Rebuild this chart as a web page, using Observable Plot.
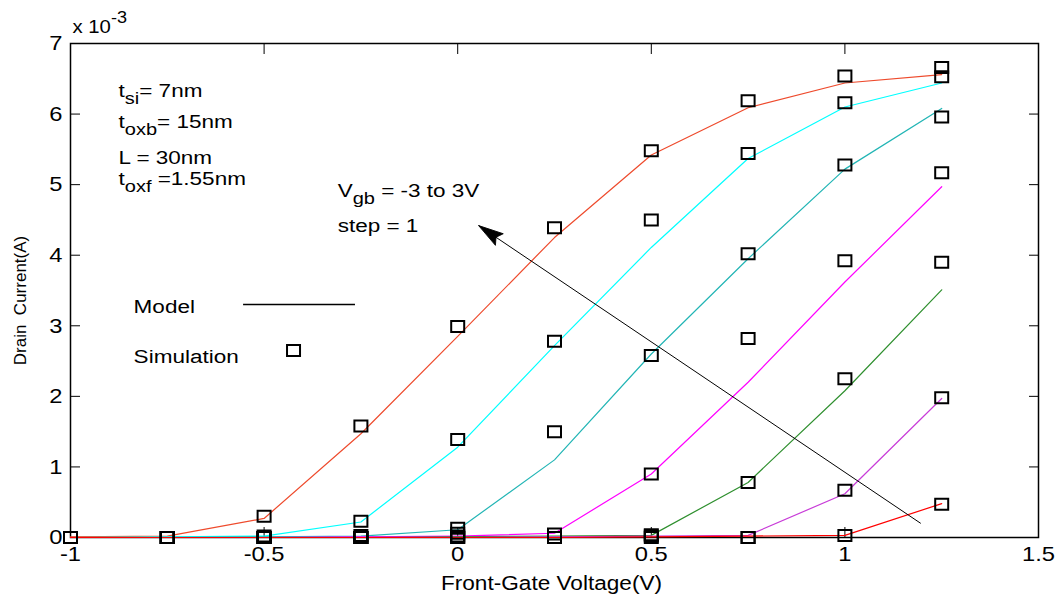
<!DOCTYPE html>
<html><head><meta charset="utf-8">
<script src="https://cdn.jsdelivr.net/npm/d3@7"></script>
<script src="https://cdn.jsdelivr.net/npm/@observablehq/plot@0.6"></script>
<style>
html,body{margin:0;padding:0;background:#fff;}
#chart{width:1063px;height:601px;}
</style></head><body><div id="chart"></div>
<script>
// Front-gate voltage (V)
const vfg = [-1, -0.75, -0.5, -0.25, 0, 0.25, 0.5, 0.75, 1, 1.25];
// back-gate voltages, one series each
const vgb = [3, 2, 1, 0, -1, -2, -3];
const seriesColors = ["#ee4a2c", "#00ffff", "#22b5b5", "#ff00ff", "#2e8f2e", "#c83cd8", "#ff0000"];

// Model drain current (x 1e-3 A)
const model_p3 = [0.01, 0.02, 0.27, 1.47, 2.85, 4.25, 5.42, 6.09, 6.44, 6.56];
const model_p2 = [0, 0.01, 0.02, 0.22, 1.28, 2.72, 4.11, 5.37, 6.10, 6.44];
const model_p1 = [0, 0, 0.01, 0.02, 0.11, 1.10, 2.60, 3.95, 5.22, 6.08];
const model_0  = [0, 0, 0, 0.01, 0.02, 0.06, 0.90, 2.20, 3.62, 4.97];
const model_m1 = [0, 0, 0, 0, 0.01, 0.02, 0.03, 0.78, 2.08, 3.51];
const model_m2 = [0, 0, 0, 0, 0, 0.01, 0.02, 0.03, 0.62, 1.97];
const model_m3 = [0, 0, 0, 0, 0, 0, 0.01, 0.02, 0.03, 0.48];

// Simulated drain current (x 1e-3 A)
const sim_p3 = [0, 0, 0.30, 1.58, 2.99, 4.39, 5.48, 6.19, 6.54, 6.66];
const sim_p2 = [0, 0, 0, 0.23, 1.39, 2.78, 4.50, 5.44, 6.16, 6.53];
const sim_p1 = [0, 0, 0.02, 0, 0.13, 1.50, 2.58, 4.02, 5.28, 5.96];
const sim_0  = [0, 0, 0, 0.03, 0.02, 0.05, 0.90, 2.82, 3.92, 5.17];
const sim_m1 = [0, 0, 0, 0, 0.06, 0, 0.04, 0.78, 2.25, 3.90];
const sim_m2 = [0, 0, 0, 0, 0, 0, 0.02, 0, 0.67, 1.98];
const sim_m3 = [0, 0, 0, 0, 0, 0, 0, 0, 0.03, 0.47];

const xTicks = [-1, -0.5, 0, 0.5, 1, 1.5];
const xTickLabels = ["-1", "-0.5", "0", "0.5", "1", "1.5"];
const yTicks = [0, 1, 2, 3, 4, 5, 6, 7];
const yTickLabels = ["0", "1", "2", "3", "4", "5", "6", "7"];

// annotations (data coordinates)
const annoText = ["t_{si}= 7nm", "t_{oxb}= 15nm", "L = 30nm", "t_{oxf} =1.55nm", "V_{gb} = -3 to 3V", "step = 1", "Model", "Simulation"];
const annoX = [-0.876, -0.876, -0.876, -0.876, -0.31, -0.31, -0.837, -0.837];
const annoY = [6.32, 5.88, 5.38, 5.07, 4.90, 4.41, 3.26, 2.55];
const arrowFrom = [1.196, 0.20];
const arrowTo = [0.054, 4.42];
const legendLineX = [-0.553, -0.264];
const legendLineY = 3.30;
const legendSquare = [-0.424, 2.65];

const modelSeries = [model_p3, model_p2, model_p1, model_0, model_m1, model_m2, model_m3];
const simSeries = [sim_p3, sim_p2, sim_p1, sim_0, sim_m1, sim_m2, sim_m3];
const modelRows = vgb.flatMap((g, i) => vfg.map((x, j) => ({x, y: modelSeries[i][j], vgb: String(g)})));
const simRows = vgb.flatMap((g, i) => vfg.map((x, j) => ({x, y: simSeries[i][j], vgb: String(g)})));
const annoRows = annoText.map((t, i) => ({t, x: annoX[i], y: annoY[i]}));

const W = 1063, H = 601, ML = 70, MR = 25, MT = 43, MB = 64;
const xDomain = [-1, 1.5], yDomain = [0, 7];
// direction of the arrow on screen, through Plot's own scale functions
const sx = Plot.scale({x: {domain: xDomain, range: [ML, W - MR]}});
const sy = Plot.scale({y: {domain: yDomain, range: [H - MB, MT]}});
const headAngle = Math.atan2(sy.apply(arrowTo[1]) - sy.apply(arrowFrom[1]), sx.apply(arrowTo[0]) - sx.apply(arrowFrom[0])) * 180 / Math.PI;

const rectSymbol = {draw(ctx) { ctx.moveTo(-6.5, -5.5); ctx.lineTo(6.5, -5.5); ctx.lineTo(6.5, 5.5); ctx.lineTo(-6.5, 5.5); ctx.closePath(); }};
const headSymbol = {draw(ctx) { ctx.moveTo(0, 0); ctx.lineTo(-25, -7); ctx.lineTo(-21, 0); ctx.lineTo(-25, 7); ctx.closePath(); }};

const blank = () => "";
const chart = Plot.plot({
  width: W, height: H,
  marginLeft: ML, marginRight: MR, marginTop: MT, marginBottom: MB,
  style: {fontFamily: "'Liberation Sans', Arial, sans-serif", fontSize: "21px", background: "white", color: "black"},
  x: {domain: xDomain},
  y: {domain: yDomain},
  color: {type: "ordinal", domain: vgb.map(String), range: seriesColors},
  marks: [
    Plot.axisX(xTicks, {anchor: "bottom", tickSize: -10, tickFormat: blank, label: null}),
    Plot.axisX(xTicks, {anchor: "top", tickSize: -10, tickFormat: blank, label: null}),
    Plot.axisY(yTicks, {anchor: "left", tickSize: -10, tickFormat: blank, label: null}),
    Plot.axisY(yTicks, {anchor: "right", tickSize: -10, tickFormat: blank, label: null}),
    Plot.axisX(xTicks, {anchor: "bottom", tickSize: 0, tickPadding: 9, tickFormat: (d) => xTickLabels[xTicks.indexOf(d)], label: null}),
    Plot.axisY(yTicks, {anchor: "left", tickSize: 0, tickPadding: 8, tickFormat: (d) => yTickLabels[yTicks.indexOf(d)], label: null}),
    Plot.frame({stroke: "black", strokeWidth: 1.5}),
    Plot.line(modelRows, {x: "x", y: "y", z: "vgb", stroke: "vgb", strokeWidth: 1.2}),
    Plot.dot(simRows, {x: "x", y: "y", symbol: rectSymbol, stroke: "black", strokeWidth: 2, fill: "none"}),
    Plot.link([0], {x1: () => arrowFrom[0], y1: () => arrowFrom[1], x2: () => arrowTo[0], y2: () => arrowTo[1], stroke: "black", strokeWidth: 1}),
    Plot.dot([arrowTo], {x: d => d[0], y: d => d[1], symbol: headSymbol, rotate: headAngle, fill: "black", stroke: "black", strokeWidth: 0.8}),
    Plot.ruleY([legendLineY], {x1: legendLineX[0], x2: legendLineX[1], stroke: "black", strokeWidth: 1.5}),
    Plot.dot([legendSquare], {x: d => d[0], y: d => d[1], symbol: rectSymbol, stroke: "black", strokeWidth: 2, fill: "none"}),
    Plot.text(annoRows, {x: "x", y: "y", text: "t", textAnchor: "start", lineAnchor: "middle", fontSize: 18}),
    Plot.text(["x 10^{-3}"], {frameAnchor: "top-left", textAnchor: "start", lineAnchor: "middle", dx: 2, dy: -16, fontSize: 18}),
    Plot.text(["Front-Gate Voltage(V)"], {frameAnchor: "bottom", textAnchor: "middle", lineAnchor: "middle", dy: 46, dx: -3, fontSize: 20}),
    Plot.text(["Drain  Current(A)"], {frameAnchor: "left", textAnchor: "middle", lineAnchor: "middle", rotate: -90, dx: -50, dy: 10, fontSize: 17})
  ]
});
document.getElementById("chart").appendChild(chart);

// subscripts / superscripts, and horizontal stretch of horizontal text
const NS = "http://www.w3.org/2000/svg";
const annoSet = new Set(annoText);
chart.querySelectorAll("text").forEach(t => {
  const s = t.textContent;
  const isAnno = annoSet.has(s);
  if (/[_^]\{/.test(s)) {
    t.textContent = "";
    const re = /([_^])\{([^}]*)\}|([^_^]+)/g;
    let m, shift = 0;
    while ((m = re.exec(s))) {
      const ts = document.createElementNS(NS, "tspan");
      if (m[1]) {
        const d = m[1] === "_" ? 7 : -10;
        ts.setAttribute("dy", d - shift);
        ts.setAttribute("font-size", "16");
        ts.textContent = m[2];
        shift = d;
      } else {
        if (shift) ts.setAttribute("dy", -shift);
        shift = 0;
        ts.textContent = m[3];
      }
      t.appendChild(ts);
    }
  }
  const tr = (t.getAttribute("transform") || "") + ((t.parentNode.getAttribute && t.parentNode.getAttribute("transform")) || "");
  if (/rotate/.test(tr)) return;
  const len = t.getComputedTextLength();
  if (len > 0) {
    t.setAttribute("textLength", (len * (isAnno ? 1.25 : 1.13)).toFixed(1));
    t.setAttribute("lengthAdjust", "spacingAndGlyphs");
  }
});
</script>
</body></html>
